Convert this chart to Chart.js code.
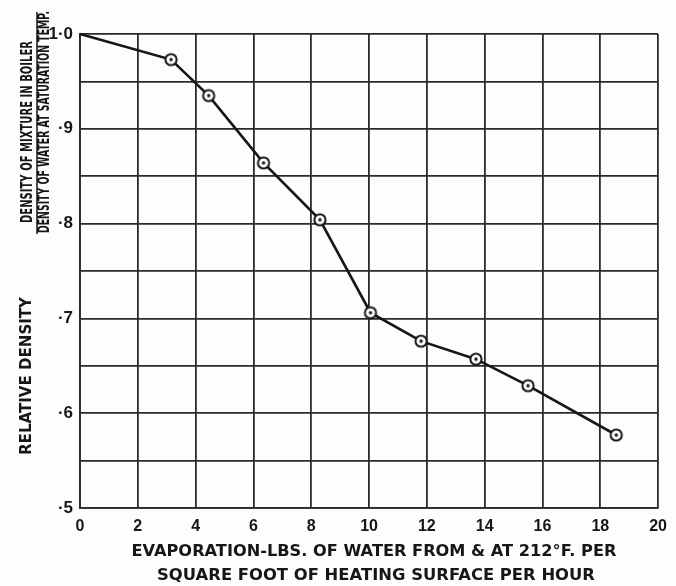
<!DOCTYPE html>
<html>
<head>
<meta charset="utf-8">
<script src="https://cdn.jsdelivr.net/npm/chart.js@4"></script>
<style>
  html, body { margin: 0; padding: 0; background: #fdfdfd; }
  #wrap { width: 676px; height: 586px; }
</style>
</head>
<body>
<div id="wrap"><canvas id="densityChart" width="676" height="586"></canvas></div>
<script>
// evaporation (lbs per sq ft per hour) and relative density
const evaporation = [0, 3.15, 4.45, 6.35, 8.3, 10.05, 11.8, 13.7, 15.5, 18.55];
const relDensity = [1.0, 0.973, 0.935, 0.864, 0.804, 0.706, 0.676, 0.657, 0.629, 0.577];
const markerRadius = [0, 6, 6, 6, 6, 6, 6, 6, 6, 6];

const xTitle1 = 'EVAPORATION-LBS. OF WATER FROM & AT 212°F. PER';
const xTitle2 = 'SQUARE FOOT OF HEATING SURFACE PER HOUR';
const yTitle = 'RELATIVE DENSITY';
const yNumer = 'DENSITY OF MIXTURE IN BOILER';
const yDenom = 'DENSITY OF WATER AT SATURATION TEMP.';

const ink = '#161616';

function makeMarker() {
    const c = document.createElement('canvas');
    c.width = 16; c.height = 16;
    const g = c.getContext('2d');
    g.beginPath();
    g.arc(8, 8, 5.6, 0, Math.PI * 2);
    g.fillStyle = '#fff';
    g.fill();
    g.lineWidth = 2;
    g.strokeStyle = ink;
    g.stroke();
    g.beginPath();
    g.arc(8, 8, 1.7, 0, Math.PI * 2);
    g.fillStyle = ink;
    g.fill();
    return c;
}

// draws text squeezed/stretched to a given length, centred on (cx, cy)
function drawFit(ctx, text, cx, cy, len, font, rot) {
    ctx.save();
    ctx.font = font;
    ctx.fillStyle = ink;
    ctx.textAlign = 'center';
    ctx.textBaseline = 'middle';
    ctx.translate(cx, cy);
    if (rot) ctx.rotate(rot);
    const w = ctx.measureText(text).width;
    ctx.scale(len / w, 1);
    ctx.fillText(text, 0, 0);
    ctx.restore();
}

const titlesPlugin = {
    id: 'titles',
    afterDraw(chart) {
        const ctx = chart.ctx;
        const f = 'bold 16px "DejaVu Sans"';
        drawFit(ctx, xTitle1, 374, 552, 485, f, 0);
        drawFit(ctx, xTitle2, 376, 576, 438, f, 0);
        drawFit(ctx, yTitle, 27, 376, 158, f, -Math.PI / 2);
        drawFit(ctx, yNumer, 28, 132, 182, 'bold 15px "DejaVu Sans"', -Math.PI / 2);
        drawFit(ctx, yDenom, 45, 122, 222, 'bold 15px "DejaVu Sans"', -Math.PI / 2);
        ctx.save();
        ctx.strokeStyle = ink;
        ctx.lineWidth = 1.5;
        ctx.beginPath();
        ctx.moveTo(37, 12);
        ctx.lineTo(37, 234);
        ctx.stroke();
        ctx.restore();
    }
};

const bgPlugin = {
    id: 'bg',
    beforeDraw(chart) {
        const ctx = chart.ctx;
        ctx.save();
        ctx.fillStyle = '#fdfdfd';
        ctx.fillRect(0, 0, chart.width, chart.height);
        ctx.restore();
    }
};

const ctx = document.getElementById('densityChart').getContext('2d');
const points = evaporation.map((x, i) => ({ x: x, y: relDensity[i] }));

new Chart(ctx, {
    type: 'scatter',
    data: {
        datasets: [{
            data: points,
            showLine: true,
            borderColor: ink,
            borderWidth: 2.6,
            pointStyle: makeMarker(),
            pointRadius: markerRadius,
            pointHoverRadius: markerRadius,
            clip: false
        }]
    },
    options: {
        responsive: false,
        animation: false,
        events: [],
        layout: { padding: { left: 0, right: 15, top: 34, bottom: 0 } },
        plugins: { legend: { display: false }, tooltip: { enabled: false } },
        scales: {
            x: {
                type: 'linear',
                min: 0,
                max: 20,
                afterFit(scale) { scale.height = 78; },
                ticks: {
                    stepSize: 2,
                    padding: 9,
                    color: ink,
                    font: { family: '"Liberation Sans"', size: 16, weight: 'bold' },
                    maxRotation: 0
                },
                grid: { color: '#2a2a2a', lineWidth: 1.8, drawTicks: false },
                border: { color: '#2a2a2a', width: 1.8 }
            },
            y: {
                type: 'linear',
                min: 0.5,
                max: 1.0,
                afterFit(scale) { scale.width = 80; },
                ticks: {
                    stepSize: 0.05,
                    padding: 7,
                    color: ink,
                    font: { family: '"Liberation Sans"', size: 17, weight: 'bold' },
                    autoSkip: false,
                    callback(v) {
                        const t = Math.round(v * 100);
                        if (t % 10 !== 0) return '';
                        if (t === 100) return '1·0';
                        return '·' + (t / 10);
                    }
                },
                grid: { color: '#2a2a2a', lineWidth: 1.8, drawTicks: false },
                border: { color: '#2a2a2a', width: 1.8 }
            }
        }
    },
    plugins: [bgPlugin, titlesPlugin]
});
</script>
</body>
</html>
